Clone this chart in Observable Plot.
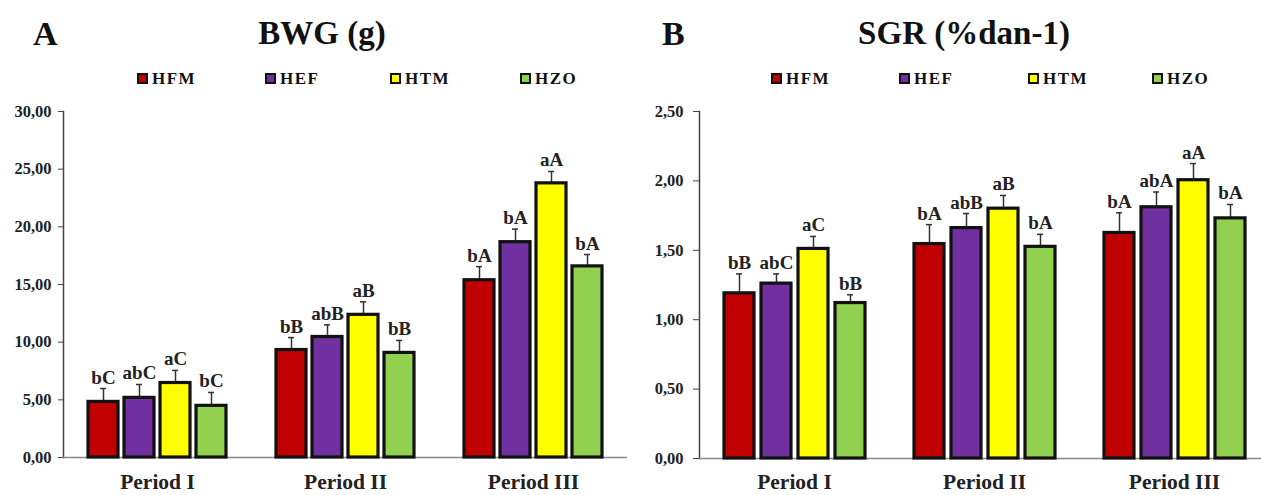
<!DOCTYPE html>
<html><head><meta charset="utf-8">
<script src="https://cdn.jsdelivr.net/npm/d3@7"></script>
<script src="https://cdn.jsdelivr.net/npm/@observablehq/plot@0.6"></script>
<style>
body{margin:0;background:#fff;}
#wrap{position:relative;width:1261px;height:495px;overflow:hidden;background:#fff;font-family:"Liberation Serif","Times New Roman",serif;font-weight:bold;color:#111;}
.t{position:absolute;line-height:1;white-space:nowrap;}
.big{font-size:34px;}
.title{font-size:33px;width:400px;text-align:center;}
.leg{position:absolute;top:70px;font-size:17px;line-height:1;letter-spacing:1.5px;display:flex;align-items:center;white-space:nowrap;}
.sw{width:11px;height:11px;box-sizing:border-box;border:2.5px solid #111;margin-right:4px;}
svg.panel{position:absolute;top:100px;}
</style></head><body><div id="wrap"></div><script>
const periods = ["Period I", "Period II", "Period III"];
const treatments = ["HFM", "HEF", "HTM", "HZO"];
const colors = ["#C00000", "#7030A0", "#FFFF00", "#92D050"];

// Panel A: BWG (g)
const bwgMean = [[4.82, 5.17, 6.46, 4.48], [9.32, 10.45, 12.37, 9.07], [15.37, 18.67, 23.77, 16.57]];
const bwgSd = [[1.16, 1.16, 1.09, 1.16], [1.08, 1.05, 1.13, 1.08], [1.18, 1.13, 1.03, 1.03]];
const bwgLetters = [["bC", "abC", "aC", "bC"], ["bB", "abB", "aB", "bB"], ["bA", "bA", "aA", "bA"]];
const bwgTicks = [0, 5, 10, 15, 20, 25, 30];

// Panel B: SGR (%dan-1)
const sgrMean = [[1.19, 1.26, 1.51, 1.12], [1.545, 1.66, 1.80, 1.525], [1.625, 1.81, 2.005, 1.73]];
const sgrSd = [[0.14, 0.07, 0.09, 0.06], [0.14, 0.105, 0.095, 0.09], [0.145, 0.11, 0.12, 0.10]];
const sgrLetters = [["bB", "abC", "aC", "bB"], ["bA", "abB", "aB", "bA"], ["bA", "abA", "aA", "bA"]];
const sgrTicks = [0, 0.5, 1, 1.5, 2, 2.5];

function rows(mean, sd, letters) {
  const out = [];
  periods.forEach((p, i) => treatments.forEach((t, j) => {
    out.push({period: p, treatment: t, mean: mean[i][j], top: mean[i][j] + sd[i][j], letter: letters[i][j]});
  }));
  return out;
}
const fmt = d => d.toFixed(2).replace(".", ",");

function panel(data, o) {
  return Plot.plot({
    width: o.width, height: 395,
    marginTop: 11, marginBottom: o.mb, marginLeft: o.ml, marginRight: o.mr,
    style: "font-family:'Liberation Serif','Times New Roman',serif;font-weight:bold;background:transparent;overflow:visible;color:#222;",
    fx: {domain: periods, padding: 0},
    x: {domain: treatments, paddingInner: o.pi, paddingOuter: o.po, axis: null},
    y: {domain: [0, o.ymax]},
    color: {domain: treatments, range: colors},
    marks: [
      Plot.frame({anchor: "left", facetAnchor: "left", stroke: "#444", strokeWidth: 1.5}),
      Plot.ruleY([0], {stroke: "#888", strokeWidth: 1.5}),
      Plot.ruleX(data, {fx: "period", x: "treatment", y1: "mean", y2: "top", stroke: "#333", strokeWidth: 1.5}),
      Plot.tickY(data, {fx: "period", x: "treatment", y: "top", insetLeft: 12, insetRight: 12, stroke: "#333", strokeWidth: 1.5}),
      Plot.barY(data, {fx: "period", x: "treatment", y: "mean", fill: "treatment", stroke: "#111", strokeWidth: 3.2}),
      Plot.text(data, {fx: "period", x: "treatment", y: "top", text: "letter", dy: -5, lineAnchor: "bottom", fontSize: 19, fontWeight: "bold", fill: "#222"}),
      Plot.axisY({ticks: o.ticks, tickFormat: fmt, tickSize: o.ts, tickPadding: o.tp, fontSize: 16.5, fontWeight: "bold", stroke: "#444", fill: "#222", label: null, facetAnchor: "left"}),
      Plot.axisFx({anchor: "bottom", tickSize: 0, tickPadding: o.fp, fontSize: 21.5, fontWeight: "bold", fill: "#222", label: null})
    ]
  });
}

const wrap = document.getElementById("wrap");
function addText(cls, txt, left, top) {
  const d = document.createElement("div");
  d.className = "t " + cls; d.textContent = txt;
  d.style.left = left + "px"; d.style.top = top + "px";
  wrap.appendChild(d);
}
function addLegend(lefts) {
  treatments.forEach((t, i) => {
    const d = document.createElement("div");
    d.className = "leg"; d.style.left = lefts[i] + "px";
    const s = document.createElement("span"); s.className = "sw"; s.style.background = colors[i];
    const l = document.createElement("span"); l.textContent = t;
    d.appendChild(s); d.appendChild(l); wrap.appendChild(d);
  });
}

addText("big", "A", 33, 17);
addText("title", "BWG (g)", 322 - 200, 17);
addText("big", "B", 662, 17);
addText("title", "SGR (%dan-1)", 964 - 200, 17);
addLegend([137, 265, 390, 520]);
addLegend([771, 899, 1028, 1152]);

const a = panel(rows(bwgMean, bwgSd, bwgLetters), {width: 630, ml: 62, mr: 3, mb: 38, ymax: 30, ticks: bwgTicks, ts: 5, tp: 7, pi: 0.174, po: 0.68, fp: 16});
a.classList.add("panel"); a.style.left = "0px";
wrap.appendChild(a);
const b = panel(rows(sgrMean, sgrSd, sgrLetters), {width: 639, ml: 69, mr: 0, mb: 37, ymax: 2.5, ticks: sgrTicks, ts: 6, tp: 10, pi: 0.19, po: 0.66, fp: 15});
b.classList.add("panel"); b.style.left = "630px";
wrap.appendChild(b);
</script></body></html>
